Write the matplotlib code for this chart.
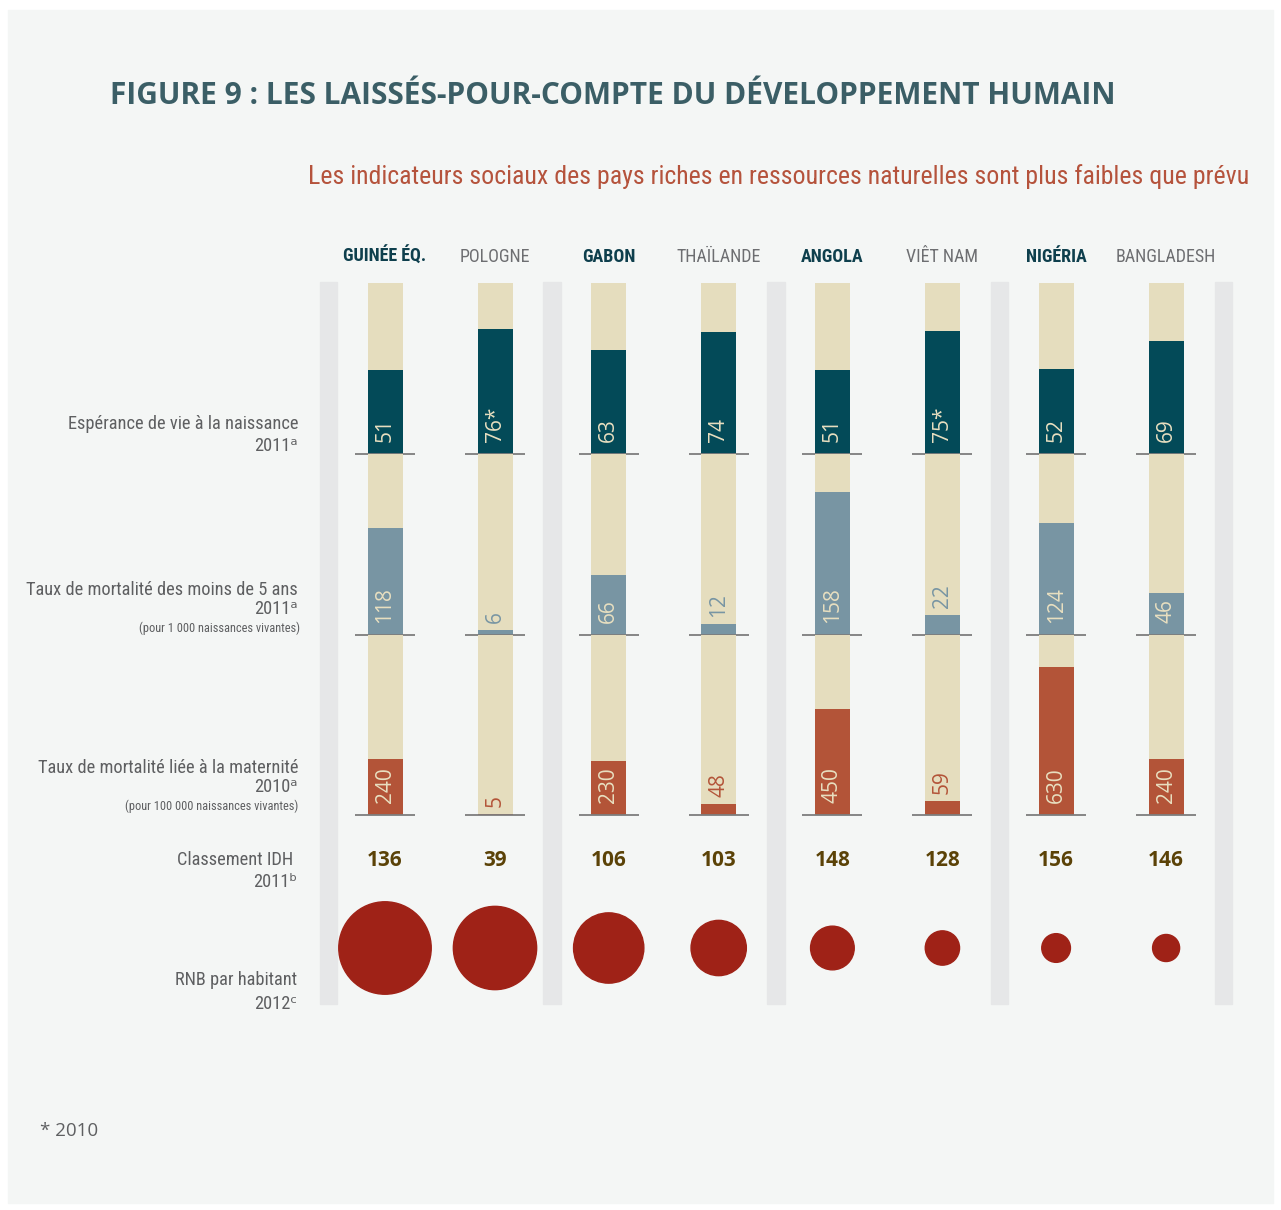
import matplotlib
matplotlib.use('Agg')
import matplotlib.pyplot as plt
from matplotlib import font_manager
from matplotlib.patches import Rectangle, Circle
from matplotlib.transforms import Bbox

# Données
pays = ['GUINÉE ÉQ.', 'POLOGNE', 'GABON', 'THAÏLANDE', 'ANGOLA', 'VIÊT NAM', 'NIGÉRIA', 'BANGLADESH']
riche = [True, False, True, False, True, False, True, False]
esperance = [51, 76, 63, 74, 51, 75, 52, 69]
esperance_txt = ['51', '76*', '63', '74', '51', '75*', '52', '69']
mort_enf = [118, 6, 66, 12, 158, 22, 124, 46]
mort_mat = [240, 5, 230, 48, 450, 59, 630, 240]
idh = [136, 39, 106, 103, 148, 128, 156, 146]
rnb = [18600, 15100, 10750, 6650, 4150, 2560, 1790, 1590]  # estimé à partir des surfaces

# Couleurs
fond = '#f4f6f5'
sep = '#e6e7e8'
beige = '#e5ddbe'
petrole = '#034a58'
bleu = '#7895a3'
rouille = '#b35438'
cercle = '#9f2217'
gris = '#5e5f61'

# Police condensée si disponible
noms = {f.name for f in font_manager.fontManager.ttflist}
cond = 'Liberation Sans'
for n in ['Roboto Condensed', 'Liberation Sans Narrow', 'Open Sans Condensed', 'DejaVu Sans Condensed']:
    if n in noms:
        cond = n
        break
fcond = [cond, 'DejaVu Sans']

W, H = 1281, 1210
fig = plt.figure(figsize=(W / 100, H / 100), dpi=100, facecolor='white')
bg = fig.add_axes([0, 0, 1, 1])
bg.set_xlim(0, W)
bg.set_ylim(H, 0)
bg.axis('off')
bg.add_patch(Rectangle((8, 10), 1265, 1193, color=fond, zorder=0))

# positions
xs = []
for k in range(4):
    c = 440 + 223.7 * k
    xs += [c - 55, c + 55]
for k in range(5):
    bg.add_patch(Rectangle((328.5 + 223.7 * k - 8.75, 282), 17.5, 722, color=sep, zorder=1))

r = fig.canvas.get_renderer()


def ajuste(t, largeur):
    w = t.get_window_extent(r).width
    t.set_fontsize(t.get_fontsize() * largeur / w)
    return t.get_fontsize()


# Titres
t = bg.text(110, 104, 'FIGURE 9 : LES LAISSÉS-POUR-COMPTE DU DÉVELOPPEMENT HUMAIN',
            family='Open Sans', weight='bold', fontsize=20, color='#3b5e66', va='baseline')
ajuste(t, 1007)
t = bg.text(1249, 184, 'Les indicateurs sociaux des pays riches en ressources naturelles sont plus faibles que prévu',
            family=fcond, fontsize=18, color='#b5533c', ha='right', va='baseline')
ajuste(t, 945)

# Noms des pays
t0 = bg.text(0, 0, 'BANGLADESH', family=fcond, fontsize=13)
fs_pays = ajuste(t0, 100)
t0.remove()
for x, p, rr in zip(xs, pays, riche):
    bg.text(x, 262, p, family=fcond, fontsize=fs_pays, ha='center', va='baseline',
            weight='bold' if rr else 'normal', color='#0e3f4d' if rr else '#6d6e71')

# Libellés des lignes
t0 = bg.text(0, 0, 'Taux de mortalité des moins de 5 ans', family=fcond, fontsize=14)
fs_lab = ajuste(t0, 272)
t0.remove()
t0 = bg.text(0, 0, '(pour 1 000 naissances vivantes)', family=fcond, fontsize=9)
fs_pt = ajuste(t0, 162)
t0.remove()

libelles = [
    (298, 429, 'Espérance de vie à la naissance', fs_lab),
    (298, 451, '2011ᵃ', fs_lab),
    (298, 595, 'Taux de mortalité des moins de 5 ans', fs_lab),
    (298, 614, '2011ᵃ', fs_lab),
    (300, 632, '(pour 1 000 naissances vivantes)', fs_pt),
    (298, 773, 'Taux de mortalité liée à la maternité', fs_lab),
    (298, 792, '2010ᵃ', fs_lab),
    (298, 810, '(pour 100 000 naissances vivantes)', fs_pt),
    (293, 865, 'Classement IDH', fs_lab),
    (297, 887, '2011ᵇ', fs_lab),
    (297, 985, 'RNB par habitant', fs_lab),
    (297, 1009, '2012ᶜ', fs_lab),
]
for x, y, s, fs in libelles:
    t = bg.text(x, y, s, family=fcond, fontsize=fs, color=gris, ha='right', va='baseline')
# le dernier libellé est coupé au bas du panneau
t.set_clip_box(Bbox.from_extents(0, H - 1004, W, H))

# Barres
lignes = [
    (283, 454, esperance, esperance_txt, 104, petrole),
    (454, 635, mort_enf, [str(v) for v in mort_enf], 200, bleu),
    (635, 815, mort_mat, [str(v) for v in mort_mat], 765, rouille),
]
for haut, bas, vals, txts, ymax, col in lignes:
    ax = fig.add_axes([0, 1 - bas / H, 1, (bas - haut) / H])
    ax.set_xlim(0, W)
    ax.set_ylim(0, ymax)
    ax.axis('off')
    ax.bar(xs, [ymax] * len(xs), width=35, color=beige)
    ax.bar(xs, vals, width=35, color=col)
    ax.hlines([0] * len(xs), [x - 30 for x in xs], [x + 30 for x in xs],
              color='#7d7d7d', lw=1.3, clip_on=False)
    for x, v, s in zip(xs, vals, txts):
        if v / ymax * (bas - haut) < 30:
            ax.annotate(s, (x, v), xytext=(0, 7), textcoords='offset pixels', rotation=90,
                        ha='center', va='bottom', family='Open Sans', fontsize=15, color=col)
        else:
            ax.annotate(s, (x, 0), xytext=(0, 12), textcoords='offset pixels', rotation=90,
                        ha='center', va='bottom', family='Open Sans', fontsize=15, color='#e8dfc0')

# Classement IDH
for x, v in zip(xs, idh):
    bg.text(x, 866, str(v), family='Open Sans', weight='bold', fontsize=15,
            color='#5b4207', ha='center', va='baseline')

# RNB par habitant : surface proportionnelle
for x, v in zip(xs, rnb):
    bg.add_patch(Circle((x, 948), 0.339 * v ** 0.5, color=cercle, zorder=3))

bg.text(40, 1136, '* 2010', family='Open Sans', fontsize=13.5, color=gris, va='baseline')

fig.savefig('out.png', dpi=100, facecolor='white')
